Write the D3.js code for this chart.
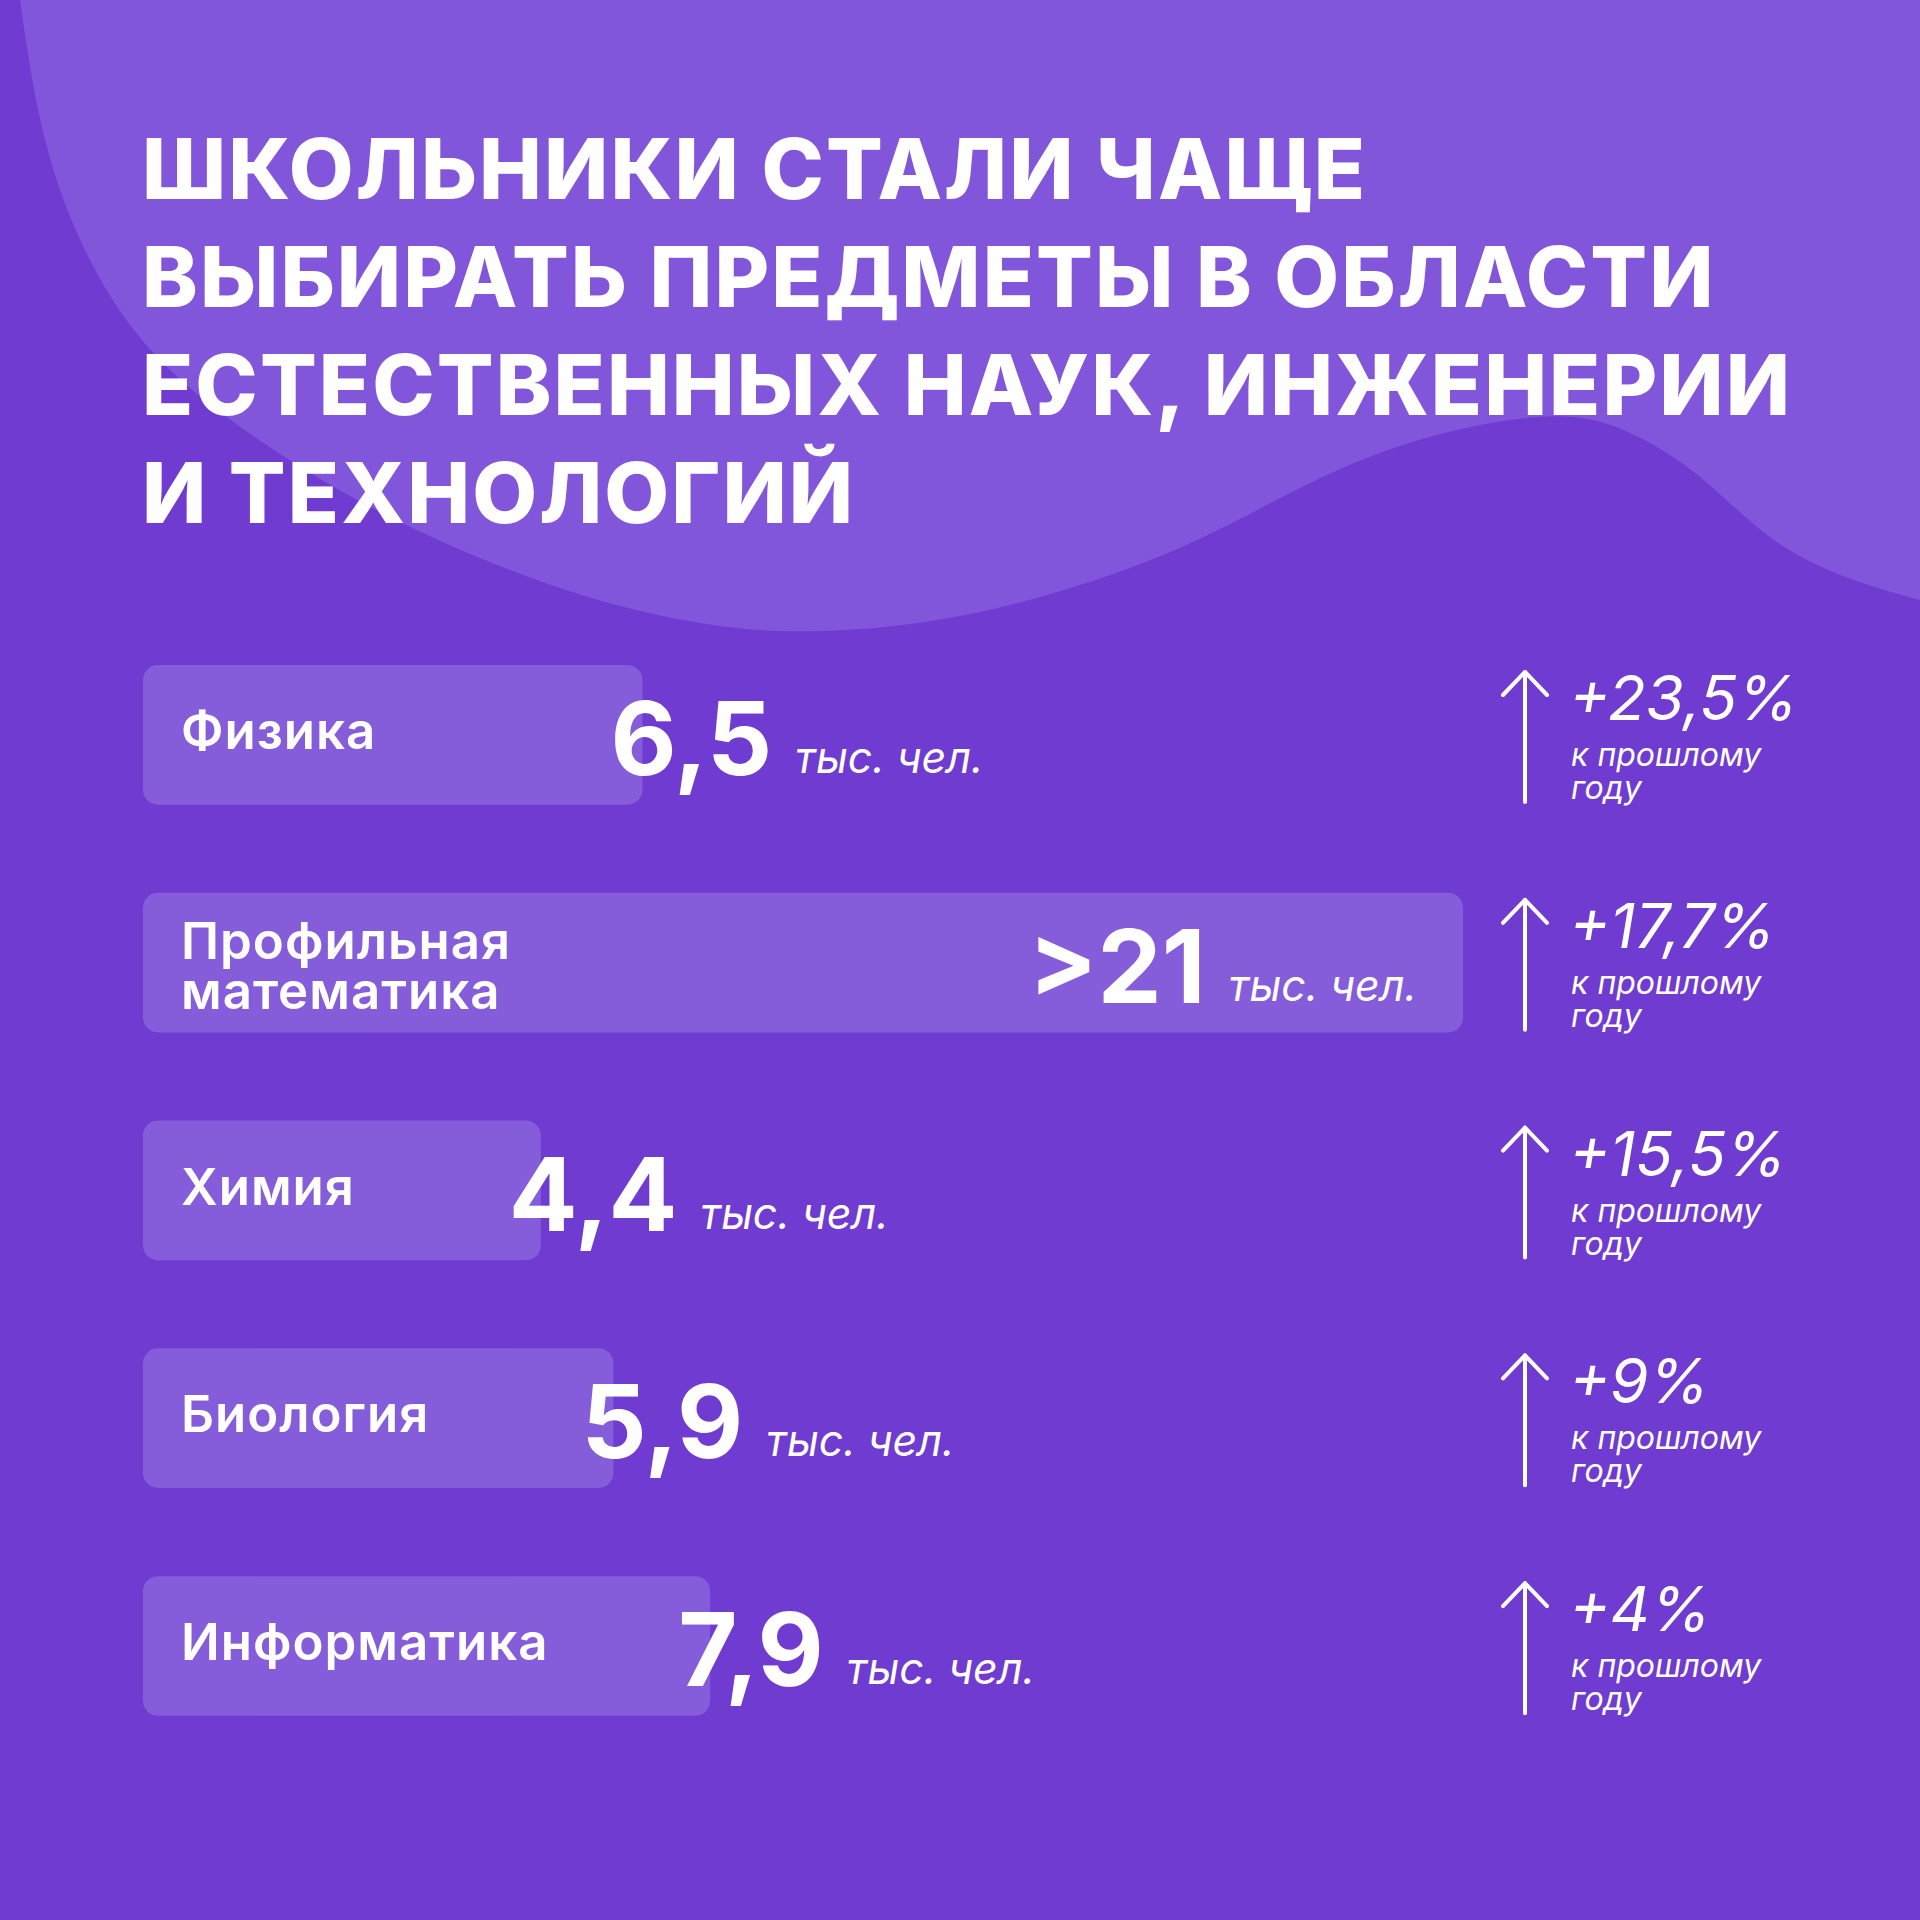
<!DOCTYPE html>
<html>
<head>
<meta charset="utf-8">
<script src="https://cdn.jsdelivr.net/npm/d3@7"></script>
<style>
  html, body { margin: 0; padding: 0; background: #6f3bd1; }
  svg { display: block; }
  text { fill: #ffffff; font-family: Inter, "Noto Sans", "DejaVu Sans", sans-serif; }
  .title { font-weight: 800; font-size: 84px; }
  .label { font-weight: 600; font-size: 51px; letter-spacing: 1px; }
  .value { font-weight: 700; font-size: 102px; }
  .unit { font-weight: 400; font-style: italic; font-size: 43px; }
  .pct { font-weight: 400; font-style: italic; font-size: 62px; }
  .note { font-weight: 400; font-style: italic; font-size: 32px; }
</style>
</head>
<body>
<div id="chart"></div>
<script>
// title lines
const titleLines = [
    'ШКОЛЬНИКИ СТАЛИ ЧАЩЕ',
    'ВЫБИРАТЬ ПРЕДМЕТЫ В ОБЛАСТИ',
    'ЕСТЕСТВЕННЫХ НАУК, ИНЖЕНЕРИИ',
    'И ТЕХНОЛОГИЙ'
];

// categories and values (тыс. чел.)
const subjects = ['Физика', 'Профильная математика', 'Химия', 'Биология', 'Информатика'];
const values = [6.5, 21, 4.4, 5.9, 7.9];
const valueLabels = ['6,5', '>21', '4,4', '5,9', '7,9'];
const growthLabels = ['+23,5%', '+17,7%', '+15,5%', '+9%', '+4%'];
const unitLabel = 'тыс. чел.';
const noteLines = ['к прошлому', 'году'];

// decorative background wave
const blobPoints = [
    [20, 0], [45, 140], [90, 260], [160, 360], [268, 446],
    [400, 522], [560, 588], [700, 623], [820, 631], [980, 612],
    [1163, 555], [1300, 488], [1419, 440], [1537, 417], [1616, 427], [1695, 473],
    [1774, 540], [1854, 580], [1920, 600]
];

const W = 1920, H = 1920;
const colors = { bg: '#6f3bd1', blob: '#8256db', bar: '#855dda' };

const svg = d3.select('#chart')
    .append('svg')
    .attr('width', W)
    .attr('height', H);

svg.append('rect')
    .attr('width', W)
    .attr('height', H)
    .attr('fill', colors.bg);

// light wave on top
const blobLine = d3.line().curve(d3.curveNatural);
svg.append('path')
    .attr('d', blobLine(blobPoints) + `L${W},0Z`)
    .attr('fill', colors.blob);

// title
const title = svg.append('g').attr('class', 'title-group');
const titleText = title.selectAll('text')
    .data(titleLines)
    .enter()
    .append('text')
    .attr('class', 'title')
    .attr('x', 142)
    .attr('y', (d, i) => 199 + i * 108)
    .text(d => d);

// stretch letter spacing so the longest line matches the layout width
const longest = titleText.filter((d, i) => i === 2).node();
const extra = (1648 - longest.getComputedTextLength()) / (titleLines[2].length - 1);
titleText.style('letter-spacing', `${extra}px`);

// scales
const barLeft = 143;
const y = d3.scaleBand()
    .domain(subjects)
    .range([665, 665 + 4 * 227.8 + 139.6])
    .paddingInner(0.387)
    .paddingOuter(0);

const x = d3.scaleLinear()
    .domain([0, 8, 21])
    .range([barLeft + 185, barLeft + 572, barLeft + 1320]);

const rows = svg.append('g')
    .attr('class', 'rows')
    .selectAll('g')
    .data(subjects.map((s, i) => ({
        subject: s,
        value: values[i],
        valueLabel: valueLabels[i],
        growth: growthLabels[i]
    })))
    .enter()
    .append('g')
    .attr('transform', d => `translate(0, ${y(d.subject)})`);

rows.append('rect')
    .attr('x', barLeft)
    .attr('y', 0)
    .attr('width', d => x(d.value) - barLeft)
    .attr('height', y.bandwidth())
    .attr('rx', 15)
    .attr('fill', colors.bar);

// subject labels (split into two lines for long names)
rows.each(function(d) {
    const g = d3.select(this);
    const words = d.subject.split(' ');
    if (words.length === 1) {
        g.append('text')
            .attr('class', 'label')
            .attr('x', 181)
            .attr('y', 84)
            .text(d.subject);
    } else {
        words.forEach((w, i) => {
            g.append('text')
                .attr('class', 'label')
                .attr('x', 181)
                .attr('y', 66 + i * 50)
                .text(w);
        });
    }
});

// value + unit
rows.each(function(d) {
    const g = d3.select(this);
    const end = x(d.value);
    const num = g.append('text')
        .attr('class', 'value')
        .attr('y', 110)
        .text(d.valueLabel);
    const unit = g.append('text')
        .attr('class', 'unit')
        .attr('y', 108)
        .text(unitLabel);
    const nw = num.node().getComputedTextLength();
    const uw = unit.node().getComputedTextLength();
    const gap = 23;
    let start;
    if (end - barLeft > 1000) {
        // long bar: keep the value inside, right aligned
        start = end - 46 - uw - gap - nw;
    } else {
        // short bar: value overlaps the bar end
        start = end - 32;
    }
    num.attr('x', start);
    unit.attr('x', start + nw + gap);
});

// growth arrows
const arrowX = 1525;
rows.append('line')
    .attr('x1', arrowX).attr('x2', arrowX)
    .attr('y1', 7).attr('y2', 137)
    .attr('stroke', '#fff')
    .attr('stroke-width', 4)
    .attr('stroke-linecap', 'round');

rows.append('path')
    .attr('d', `M${arrowX - 22},${30}L${arrowX},${7}L${arrowX + 22},${30}`)
    .attr('fill', 'none')
    .attr('stroke', '#fff')
    .attr('stroke-width', 4)
    .attr('stroke-linecap', 'round')
    .attr('stroke-linejoin', 'round');

rows.append('text')
    .attr('class', 'pct')
    .attr('x', 1569)
    .attr('y', 55)
    .text(d => d.growth);

noteLines.forEach((line, i) => {
    rows.append('text')
        .attr('class', 'note')
        .attr('x', 1571)
        .attr('y', 101 + i * 33)
        .text(line);
});
</script>
</body>
</html>
